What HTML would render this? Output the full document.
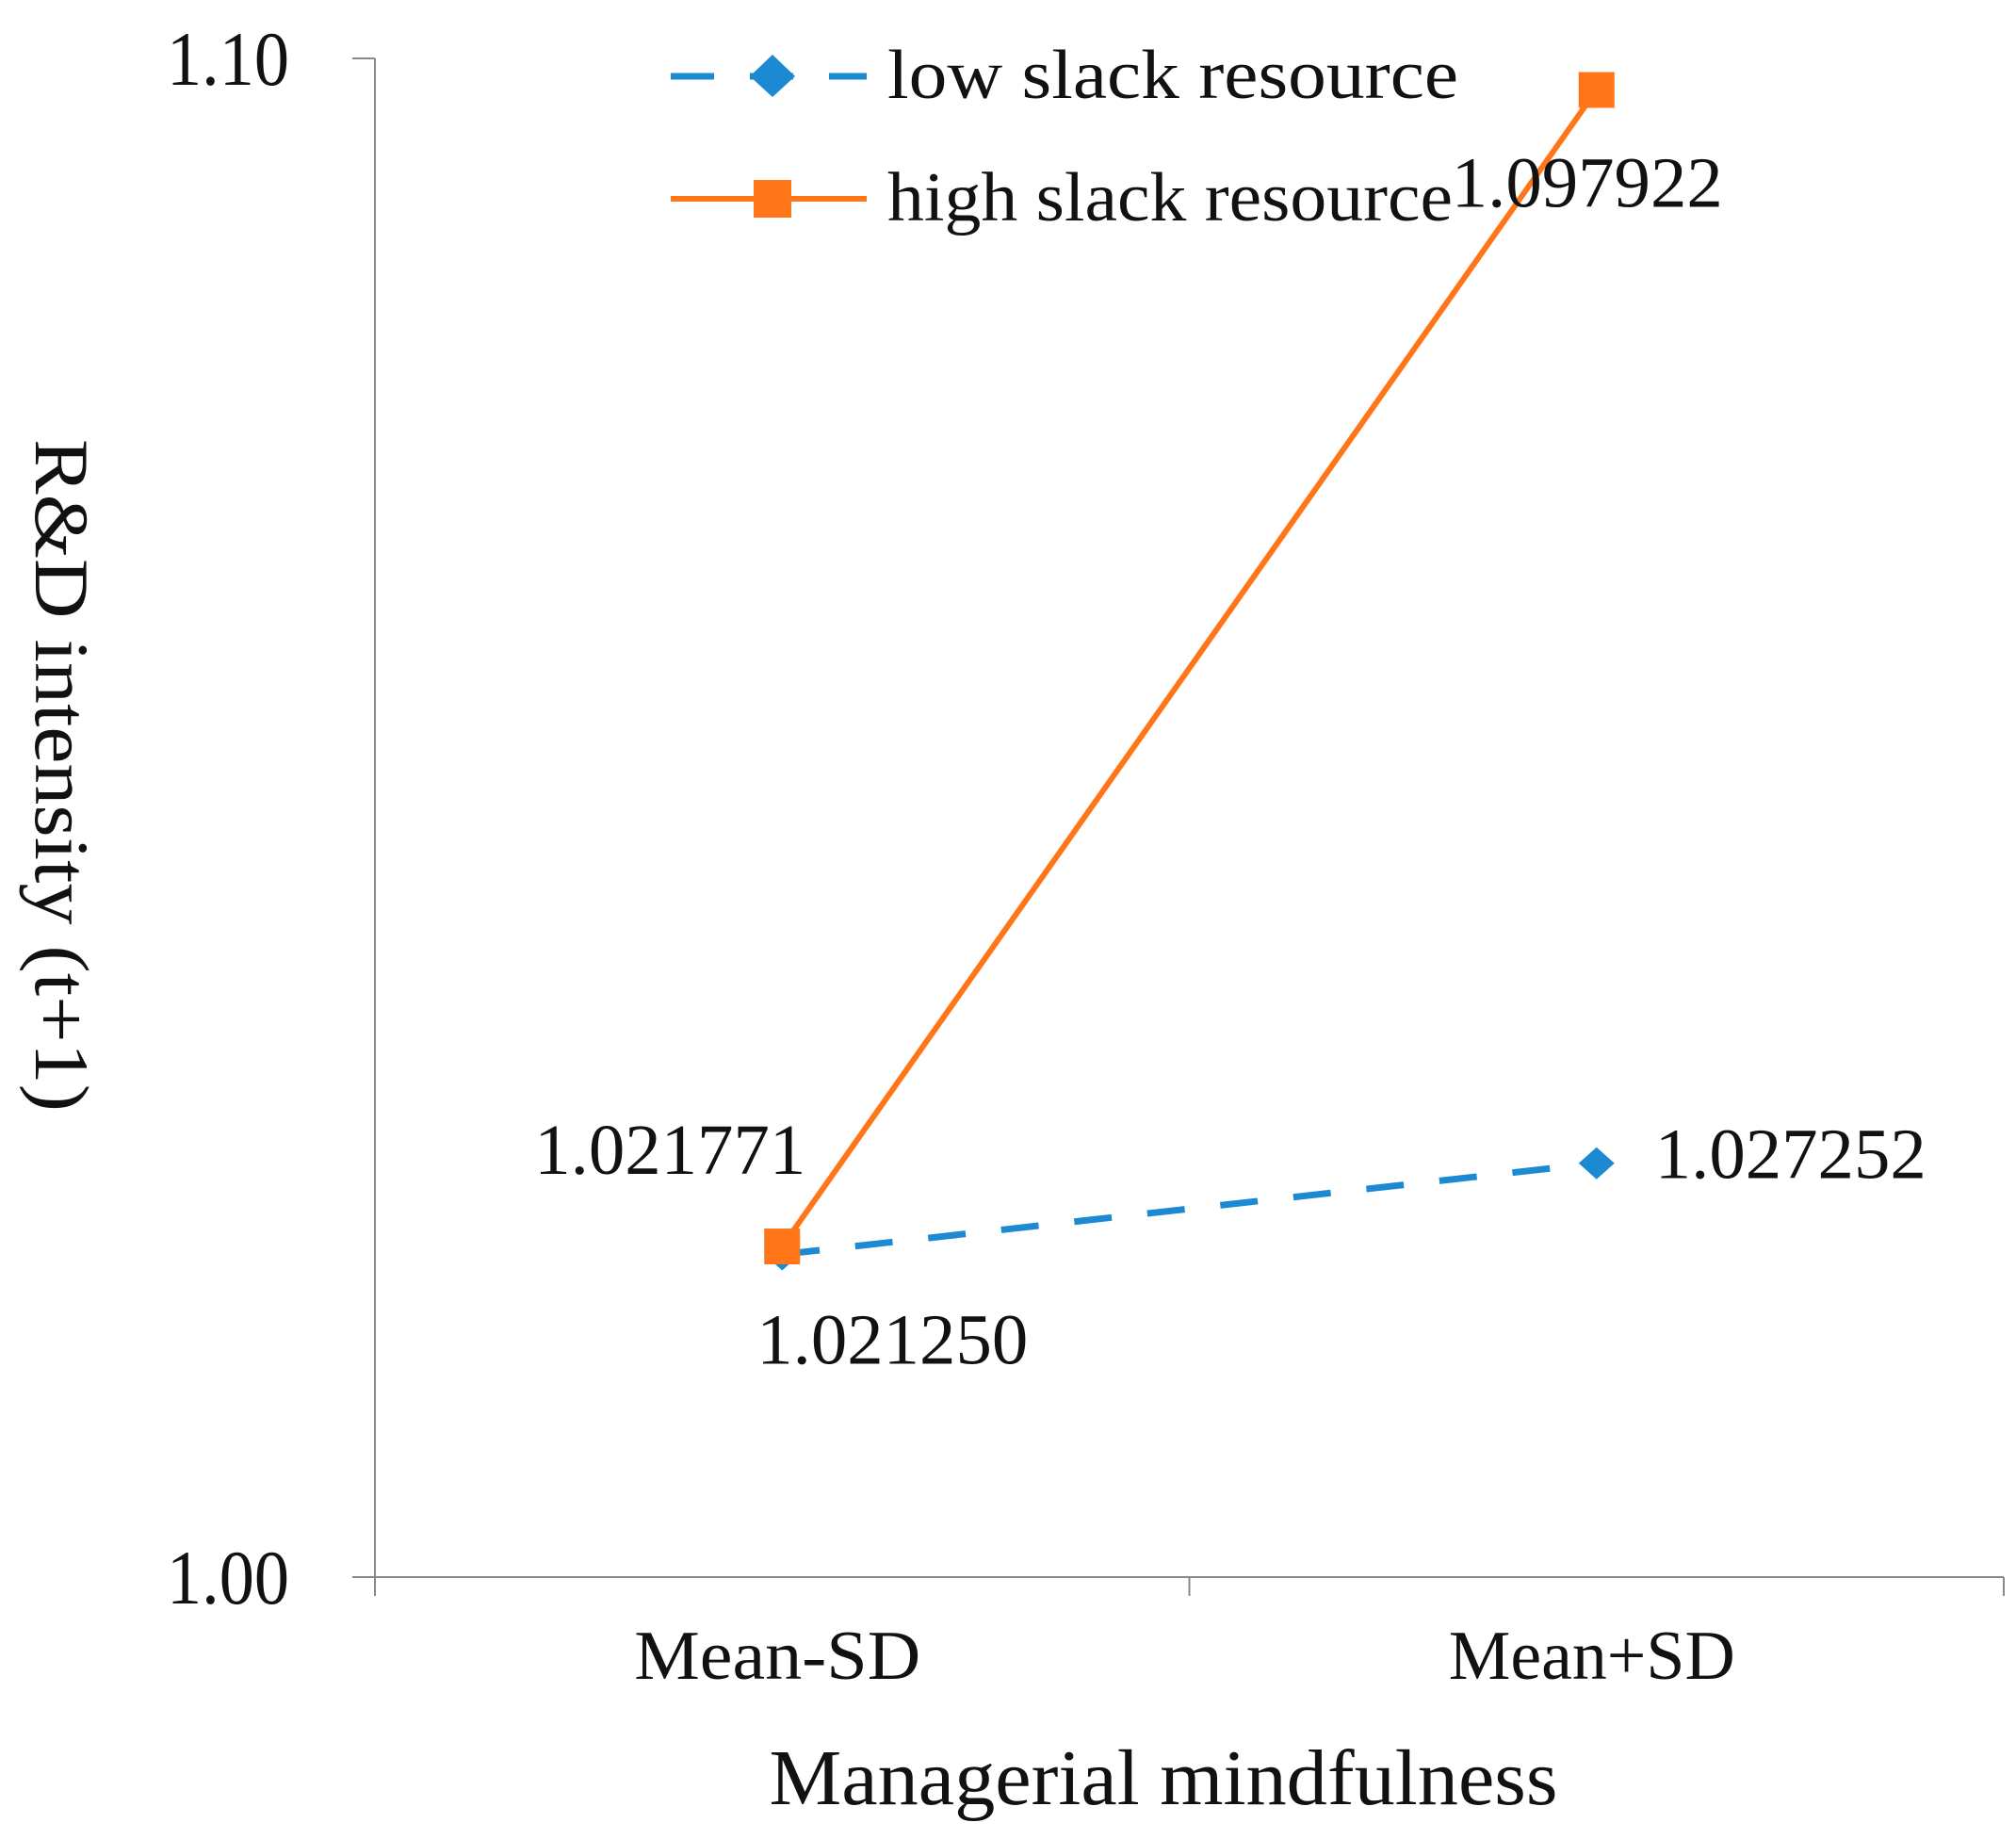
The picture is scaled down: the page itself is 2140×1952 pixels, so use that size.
<!DOCTYPE html>
<html><head><meta charset="utf-8"><style>
html,body{margin:0;padding:0;background:#fff;}
svg{display:block;font-family:"Liberation Serif",serif;}
</style></head><body>
<svg id="chart" width="2140" height="1952" viewBox="0 0 2140 1952" xmlns="http://www.w3.org/2000/svg">
<g id="axes"></g>
<g id="series"></g>
<g id="legend"></g>
</svg>
<script>
const categories = ["Mean-SD", "Mean+SD"];
const lowSlack = [1.021250, 1.027252];
const highSlack = [1.021771, 1.097922];
const lowLabels = ["1.021250", "1.027252"];
const highLabels = ["1.021771", "1.097922"];
const yTicks = [1.00, 1.10];
const yTickLabels = ["1.00", "1.10"];

const NS = "http://www.w3.org/2000/svg";
const X0 = 398, X1 = 2127, Y0 = 1674, Y1 = 62, YMIN = 1.0, YMAX = 1.1;
const yScale = v => Y0 - (v - YMIN) / (YMAX - YMIN) * (Y0 - Y1);
const band = (X1 - X0) / categories.length;
const xScale = i => X0 + band * (i + 0.5);
const BLUE = "#1b8ad3", ORANGE = "#ff7518";

function mk(tag, attrs, parent, text) {
  const e = document.createElementNS(NS, tag);
  for (const k in attrs) e.setAttribute(k, attrs[k]);
  if (text !== undefined) e.textContent = text;
  parent.appendChild(e);
  return e;
}
const axes = document.getElementById("axes");
const series = document.getElementById("series");
const legend = document.getElementById("legend");

let el = mk("line", {x1: X0, y1: Y1, x2: X0, y2: Y0, stroke: "#888", "stroke-width": 2}, axes);


el = mk("line", {x1: X0, y1: Y0, x2: X1, y2: Y0, stroke: "#888", "stroke-width": 2}, axes);


yTicks.forEach((t, i) => {
  const y = yScale(t);
  let tk = mk("line", {x1: X0 - 24, y1: y, x2: X0, y2: y, stroke: "#888", "stroke-width": 2}, axes);
  
  
  let lb = mk("text", {x: 307, y: y + 28, "text-anchor": "end", "font-size": 82, fill: "#111", textLength: 130, lengthAdjust: "spacingAndGlyphs"}, axes, yTickLabels[i]);
  
  
});
for (let i = 0; i <= categories.length; i++) {
  const x = X0 + band * i;
  let tk = mk("line", {x1: x, y1: Y0, x2: x, y2: Y0 + 20, stroke: "#888", "stroke-width": 2}, axes);
  
  
}
categories.forEach((c, i) => {
  let lb = mk("text", {x: xScale(i) - 5, y: 1782, "text-anchor": "middle", "font-size": 74, fill: "#111", textLength: 304, lengthAdjust: "spacingAndGlyphs"}, axes, c);
  
  
});
el = mk("text", {x: 1235, y: 1915, "text-anchor": "middle", "font-size": 84, fill: "#111", textLength: 837, lengthAdjust: "spacingAndGlyphs"}, axes, "Managerial mindfulness");


el = mk("text", {x: 0, y: 0, "text-anchor": "middle", "font-size": 82, fill: "#111", textLength: 714, lengthAdjust: "spacingAndGlyphs", transform: "translate(38,823) rotate(90)"}, axes, "R&D intensity (t+1)");



function pts(vals) { return vals.map((v, i) => xScale(i) + "," + yScale(v)).join(" "); }
el = mk("polyline", {points: pts(lowSlack), fill: "none", stroke: BLUE, "stroke-width": 7, "stroke-dasharray": "40,38"}, series);


el = mk("polyline", {points: pts(highSlack), fill: "none", stroke: ORANGE, "stroke-width": 6}, series);


lowSlack.forEach((v, i) => {
  const x = xScale(i), y = yScale(v);
  let m = mk("polygon", {points: `${x},${y-17} ${x+19},${y} ${x},${y+17} ${x-19},${y}`, fill: BLUE}, series);
  
  
});
highSlack.forEach((v, i) => {
  const x = xScale(i), y = yScale(v);
  let m = mk("rect", {x: x - 19, y: y - 19, width: 38, height: 38, fill: ORANGE}, series);
  
  
});
const lowOff = [[117, 116, "middle"], [62, 16, "start"]];
const highOff = [[25, -77, "end"], [-10, 124, "middle"]];
lowSlack.forEach((v, i) => {
  let t = mk("text", {x: xScale(i) + lowOff[i][0], y: yScale(v) + lowOff[i][1], "text-anchor": lowOff[i][2], "font-size": 76, fill: "#111", textLength: 288, lengthAdjust: "spacingAndGlyphs"}, series, lowLabels[i]);
  
  
});
highSlack.forEach((v, i) => {
  let t = mk("text", {x: xScale(i) + highOff[i][0], y: yScale(v) + highOff[i][1], "text-anchor": highOff[i][2], "font-size": 76, fill: "#111", textLength: 288, lengthAdjust: "spacingAndGlyphs"}, series, highLabels[i]);
  
  
});

el = mk("line", {x1: 712, y1: 81, x2: 920, y2: 81, stroke: BLUE, "stroke-width": 7, "stroke-dasharray": "46,38"}, legend);


el = mk("polygon", {points: "820,58 844,81 820,103 796,81", fill: BLUE}, legend);


el = mk("text", {x: 942, y: 104, "font-size": 74, fill: "#111", textLength: 606, lengthAdjust: "spacingAndGlyphs"}, legend, "low  slack resource");


el = mk("line", {x1: 712, y1: 211, x2: 920, y2: 211, stroke: ORANGE, "stroke-width": 6}, legend);


el = mk("rect", {x: 800, y: 191, width: 40, height: 40, fill: ORANGE}, legend);


el = mk("text", {x: 942, y: 234, "font-size": 74, fill: "#111", textLength: 600, lengthAdjust: "spacingAndGlyphs"}, legend, "high slack resource");


</script>
</body></html>
